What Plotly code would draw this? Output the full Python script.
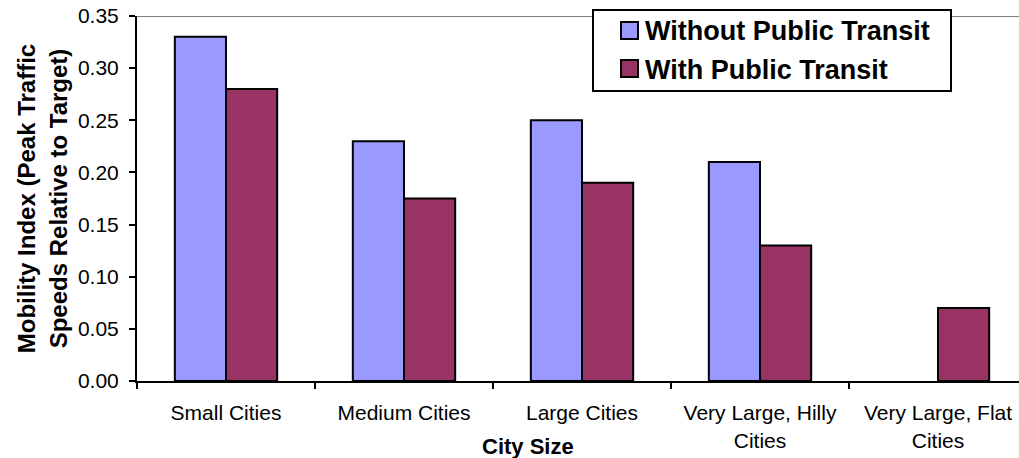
import plotly.graph_objects as go

categories = ["Small Cities", "Medium Cities", "Large Cities",
              "Very Large, Hilly<br>Cities", "Very Large, Flat<br>Cities"]
without_transit = [0.33, 0.23, 0.25, 0.21, None]
with_transit = [0.28, 0.175, 0.19, 0.13, 0.07]
series_names = ["Without Public Transit", "With Public Transit"]
series_colors = ["#9999FF", "#993366"]

FONT = "Liberation Sans, Arial, sans-serif"
W, H = 1019, 458
ML, MR, MT, MB = 137, 0, 16, 77
PW, PH = W - ML - MR, H - MT - MB


def px_x(p):
    return (p - ML) / PW


def px_y(p):
    return (H - MB - p) / PH


fig = go.Figure()
for vals, name, color in zip([without_transit, with_transit], series_names, series_colors):
    fig.add_trace(go.Bar(
        x=categories, y=vals, name=name, showlegend=False,
        marker=dict(color=color, line=dict(color="black", width=2)),
    ))

# top reference line at the axis maximum
fig.add_shape(type="line", xref="paper", yref="y", x0=0, x1=1, y0=0.35, y1=0.35,
              line=dict(color="#808080", width=2), layer="below")

# boxed legend
fig.add_shape(type="rect", xref="paper", yref="paper",
              x0=px_x(593), x1=px_x(951), y0=px_y(91), y1=px_y(10),
              line=dict(color="black", width=2), fillcolor="white", layer="above")
for i, (name, color) in enumerate(zip(series_names, series_colors)):
    cy = 30.5 + 38 * i
    fig.add_shape(type="rect", xref="paper", yref="paper",
                  x0=px_x(621), x1=px_x(638), y0=px_y(cy + 8.5), y1=px_y(cy - 8.5),
                  line=dict(color="black", width=2), fillcolor=color, layer="above")
    fig.add_annotation(text=f"<b>{name}</b>", xref="paper", yref="paper",
                       x=px_x(643), y=px_y(cy + 1), showarrow=False,
                       xanchor="left", yanchor="middle",
                       font=dict(size=27, family=FONT, color="black"))

# x-axis title placed as an annotation so it sits between the wrapped labels
fig.add_annotation(text="<b>City Size</b>", xref="paper", yref="paper",
                   x=px_x(528), y=px_y(446), showarrow=False, xanchor="center",
                   yanchor="middle", font=dict(size=22, family=FONT, color="black"))

fig.update_layout(
    width=W, height=H,
    margin=dict(l=ML, r=MR, t=MT, b=MB),
    paper_bgcolor="white", plot_bgcolor="white",
    barmode="group", bargap=0.425, bargroupgap=0,
    font=dict(family=FONT, color="black", size=21),
    showlegend=False,
)
fig.update_xaxes(
    range=[-0.5, 4.455], showline=True, linecolor="black", linewidth=2,
    ticks="outside", tickson="boundaries", ticklen=6, tickwidth=2, tickcolor="black",
    tickfont=dict(size=21), showgrid=False, ticklabelstandoff=12,
)
fig.update_yaxes(
    range=[0, 0.35], dtick=0.05, tickformat=".2f", showline=True,
    linecolor="black", linewidth=2, ticks="outside", ticklen=6, tickwidth=2,
    tickcolor="black", tickfont=dict(size=21), showgrid=False, zeroline=False,
    ticklabelstandoff=6,
    title=dict(text="Mobility Index (Peak Traffic<br>Speeds Relative to Target)",
               font=dict(size=24, weight="bold"), standoff=4),
)

fig.write_html("out.html")
